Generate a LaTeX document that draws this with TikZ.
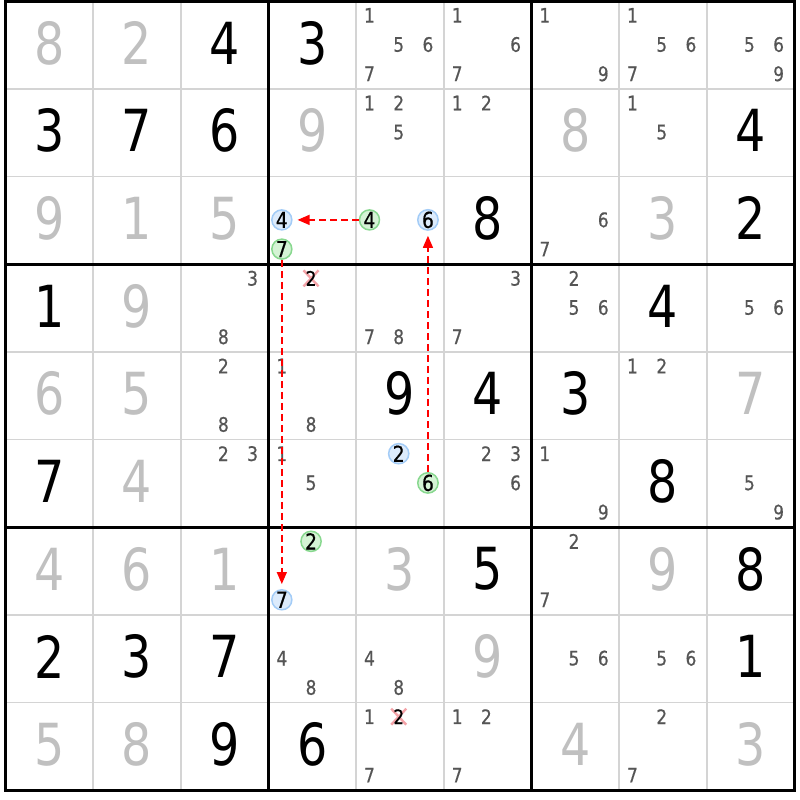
\documentclass[tikz,border=0pt]{standalone}
\usepackage{fontspec}
\setmainfont{DejaVu Sans}[FakeStretch=0.82]
\newfontfamily\candfont{DejaVu Sans}[FakeStretch=0.85, FakeBold=0.6]
\usetikzlibrary{arrows.meta}
\definecolor{givengray}{HTML}{C0C0C0}
\definecolor{candgray}{HTML}{555555}
\definecolor{linegray}{HTML}{D4D4D4}
\definecolor{onfill}{HTML}{DCEBFC}
\definecolor{ondraw}{HTML}{A3CCF7}
\definecolor{offfill}{HTML}{D5F3D5}
\definecolor{offdraw}{HTML}{88D88F}
\definecolor{crosspink}{HTML}{F4A3A8}
\tikzset{
  given/.style={font=\fontsize{58}{58}\selectfont, text=givengray, inner sep=0pt},
  solved/.style={given, text=black},
  cand/.style={font=\candfont\fontsize{20}{20}\selectfont, text=candgray, inner sep=0pt},
  oncand/.style={cand, font=\candfont\fontsize{22}{22}\selectfont, text=black, circle, minimum size=20pt, line width=1.5pt, draw=ondraw, fill=onfill},
  offcand/.style={oncand, draw=offdraw, fill=offfill},
  link/.style={red, line width=1.4pt, dash pattern=on 7pt off 4pt, -{Triangle[length=12pt,width=10pt]}, shorten >=5pt},
}
% big digit: style, row, col, digit
\newcommand\bigdigit[4]{\node[#1] (n#2#3) at (#3-0.5,#2-0.525) {#4};}
% pencil marks of one cell: row, col, list
\newcommand\cands[3]{%
  \foreach \d in {#3}{%
    \pgfmathtruncatemacro\sc{mod(\d-1,3)}%
    \pgfmathtruncatemacro\sr{(\d-1)/3}%
    \node[cand] (c#1#2\d) at (#2-1+\sc/3+0.152,#1-1+\sr/3+0.16) {\d};
  }}
% marked pencil mark: style, row, col, digit
\newcommand\hcand[4]{%
  \pgfmathtruncatemacro\sc{mod(#4-1,3)}%
  \pgfmathtruncatemacro\sr{(#4-1)/3}%
  \node[#1] (h#2#3#4) at (#3-1+\sc/3+0.152,#2-1+\sr/3+0.16) {#4};}
% eliminated pencil mark: row, col, digit
\newcommand\xcand[3]{%
  \pgfmathtruncatemacro\sc{mod(#3-1,3)}%
  \pgfmathtruncatemacro\sr{(#3-1)/3}%
  \coordinate (k#1#2#3) at (#2-1+\sc/3+0.152,#1-1+\sr/3+0.16);
  \draw[crosspink, line width=2.4pt] ([shift={(-7.5pt,-8pt)}]k#1#2#3) -- ([shift={(7.5pt,8pt)}]k#1#2#3)
    ([shift={(-7.5pt,8pt)}]k#1#2#3) -- ([shift={(7.5pt,-8pt)}]k#1#2#3);
  \node[cand, text=black] (x#1#2#3) at (k#1#2#3) {#3};}
\begin{document}
\begin{tikzpicture}[x=87.67pt, y=-87.67pt]
\fill[white] (-0.0627,-0.0148) rectangle (9.0623,9.1104);
\useasboundingbox (-0.0627,-0.0148) rectangle (9.0623,9.1104);
% grid
\foreach \i in {1,2,4,5,7,8}
{
    \draw[linegray, line width=1.5pt] (\i,0)--(\i,9);
    \draw[linegray, line width=1.5pt] (0,\i)--(9,\i);
}
\foreach \i in {3,6}
{
    \draw[line width=3pt] (\i,0)--(\i,9);
    \draw[line width=3pt] (0,\i)--(9,\i);
}
\draw[line width=3pt] (0,0) rectangle (9,9);

% givens
\foreach \r/\c/\v in {1/1/8,1/2/2,2/4/9,2/7/8,3/1/9,3/2/1,3/3/5,3/8/3,4/2/9,5/1/6,5/2/5,5/9/7,
    6/2/4,7/1/4,7/2/6,7/3/1,7/5/3,7/8/9,8/6/9,9/1/5,9/2/8,9/7/4,9/9/3}
{
    \bigdigit{given}{\r}{\c}{\v}
}
% solved
\foreach \r/\c/\v in {1/3/4,1/4/3,2/1/3,2/2/7,2/3/6,2/9/4,3/6/8,3/9/2,4/1/1,4/8/4,5/5/9,5/6/4,
    5/7/3,6/1/7,6/8/8,7/6/5,7/9/8,8/1/2,8/2/3,8/3/7,8/9/1,9/3/9,9/4/6}
{
    \bigdigit{solved}{\r}{\c}{\v}
}

% pencil marks
\cands{1}{5}{1,5,6,7} \cands{1}{6}{1,6,7} \cands{1}{7}{1,9} \cands{1}{8}{1,5,6,7} \cands{1}{9}{5,6,9}
\cands{2}{5}{1,2,5} \cands{2}{6}{1,2} \cands{2}{8}{1,5}
\cands{3}{7}{6,7}
\cands{4}{3}{3,8} \cands{4}{4}{5} \cands{4}{5}{7,8} \cands{4}{6}{3,7} \cands{4}{7}{2,5,6} \cands{4}{9}{5,6}
\cands{5}{3}{2,8} \cands{5}{4}{1,8} \cands{5}{8}{1,2}
\cands{6}{3}{2,3} \cands{6}{4}{1,5} \cands{6}{6}{2,3,6} \cands{6}{7}{1,9} \cands{6}{9}{5,9}
\cands{7}{7}{2,7}
\cands{8}{4}{4,8} \cands{8}{5}{4,8} \cands{8}{7}{5,6} \cands{8}{8}{5,6}
\cands{9}{5}{1,7} \cands{9}{6}{1,2,7} \cands{9}{8}{2,7}

\xcand{4}{4}{2}
\xcand{9}{5}{2}

% chain
\hcand{oncand}{3}{4}{4}
\hcand{offcand}{3}{4}{7}
\hcand{offcand}{3}{5}{4}
\hcand{oncand}{3}{5}{6}
\hcand{oncand}{6}{5}{2}
\hcand{offcand}{6}{5}{6}
\hcand{offcand}{7}{4}{2}
\hcand{oncand}{7}{4}{7}

\draw[link] (h354)--(h344);
\draw[link] (h656)--(h356);
\draw[link] (h347)--(h747);
\end{tikzpicture}
\end{document}
